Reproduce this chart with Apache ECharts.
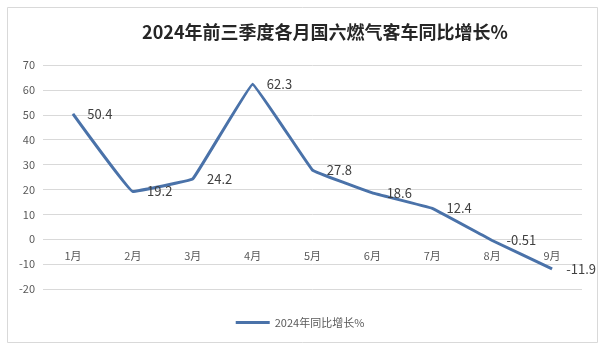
<!DOCTYPE html>
<html><head><meta charset="utf-8">
<script src="https://cdn.jsdelivr.net/npm/echarts@6/dist/echarts.min.js"></script>
<style>html,body{margin:0;padding:0;background:#fff}#c{width:600px;height:347px}</style>
</head><body><div id="c"></div>
<script>
const titleText = '2024年前三季度各月国六燃气客车同比增长%';
const seriesName = '2024年同比增长%';
const categories = ['1月','2月','3月','4月','5月','6月','7月','8月','9月'];
const values = [50.4, 19.2, 24.2, 62.3, 27.8, 18.6, 12.4, -0.51, -11.9];
const yMin = -20, yMax = 70, yStep = 10;

const chart = echarts.init(document.getElementById('c'), null, {renderer:'canvas'});
const font = '"Noto Sans CJK SC", "Microsoft YaHei", sans-serif';
chart.setOption({
  backgroundColor: '#fff',
  animation: false,
  graphic: [{
    type: 'rect', left: 5, top: 5,
    shape: {width: 590, height: 335},
    style: {fill: 'none', stroke: '#d9d9d9', lineWidth: 1}
  }],
  title: {
    text: titleText, left: 320, top: 18, textAlign: 'center',
    textStyle: {fontFamily: font, fontSize: 18, fontWeight: 'bold', color: '#262626'}
  },
  legend: {
    data: [seriesName], left: 'center', top: 312, itemWidth: 34, itemHeight: 3,
    icon: 'rect', itemStyle: {color: '#4a72a9', opacity: 1},
    textStyle: {fontFamily: font, fontSize: 11, color: '#595959'}
  },
  grid: {left: 43, right: 18, top: 65, bottom: 58},
  xAxis: {
    type: 'category', data: categories, boundaryGap: true, position: 'bottom', offset: -50,
    axisLine: {show: false, onZero: false}, axisTick: {show: false},
    axisLabel: {fontFamily: font, fontSize: 11, color: '#595959', margin: 11}
  },
  yAxis: {
    type: 'value', min: yMin, max: yMax, interval: yStep,
    axisLine: {show: false}, axisTick: {show: false},
    splitLine: {lineStyle: {color: '#d9d9d9', width: 1}},
    axisLabel: {fontFamily: font, fontSize: 11, color: '#595959', margin: 8}
  },
  series: [{
    name: seriesName, type: 'line', data: values, smooth: 0.05,
    symbol: 'circle', symbolSize: 0.5, showSymbol: true,
    lineStyle: {color: '#4a72a9', width: 3},
    itemStyle: {color: '#4a72a9'},
    label: {show: true, position: 'right', distance: 14,
      fontFamily: font, fontSize: 13, color: '#404040'}
  }]
});
</script></body></html>
